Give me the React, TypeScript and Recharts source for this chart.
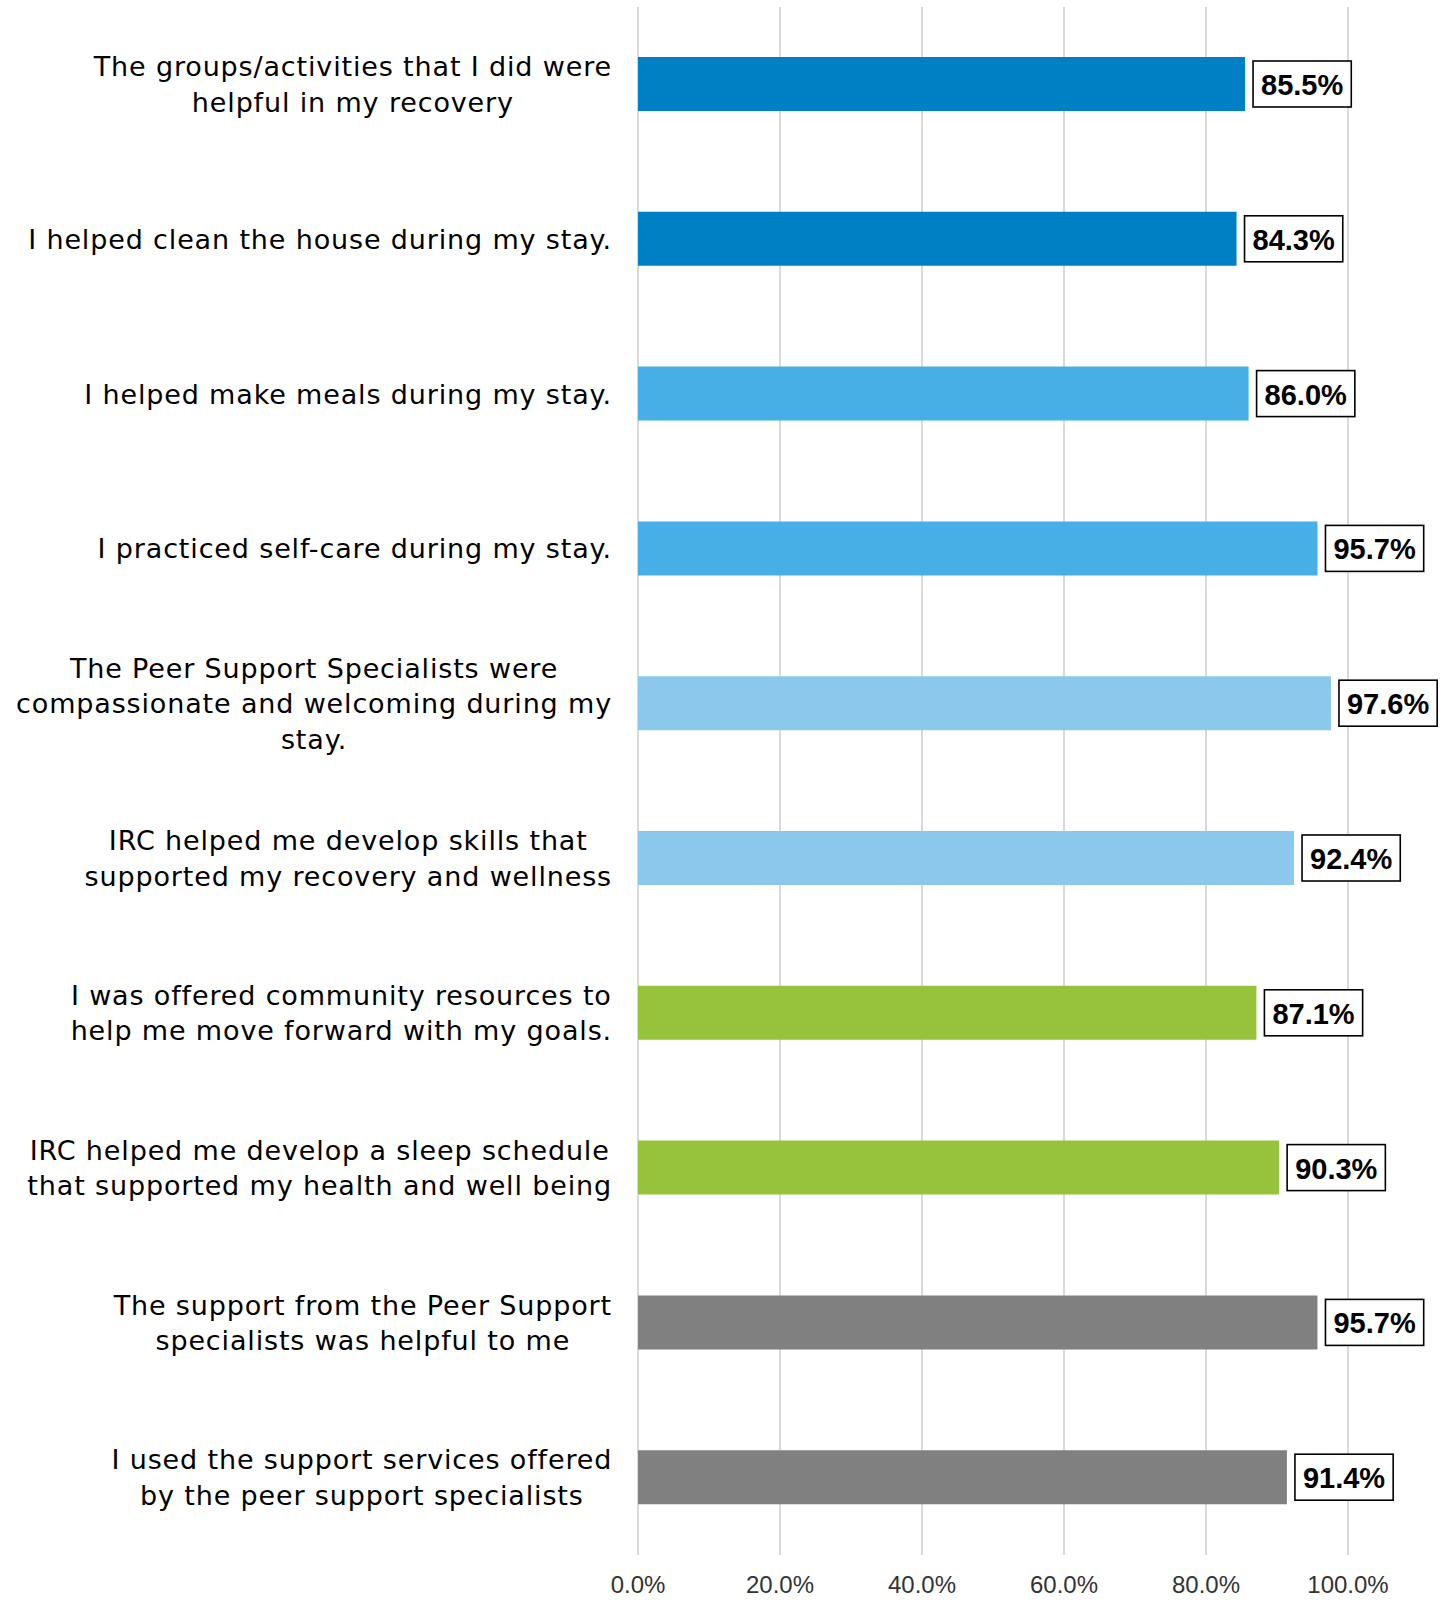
import React from 'react';
import { BarChart, Bar, XAxis, YAxis, CartesianGrid, Cell, LabelList } from 'recharts';

// survey statements, line breaks as shown in the chart
const statements = [
  'The groups/activities that I did were\nhelpful in my recovery',
  'I helped clean the house during my stay.',
  'I helped make meals during my stay.',
  'I practiced self-care during my stay.',
  'The Peer Support Specialists were\ncompassionate and welcoming during my\nstay.',
  'IRC helped me develop skills that\nsupported my recovery and wellness',
  'I was offered community resources to\nhelp me move forward with my goals.',
  'IRC helped me develop a sleep schedule\nthat supported my health and well being',
  'The support from the Peer Support\nspecialists was helpful to me',
  'I used the support services offered\nby the peer support specialists',
];

const agreePct = [85.5, 84.3, 86.0, 95.7, 97.6, 92.4, 87.1, 90.3, 95.7, 91.4];

const xTicks = [0, 20, 40, 60, 80, 100];

const barColors = [
  '#0080C4', '#0080C4',
  '#47AFE5', '#47AFE5',
  '#8CC8EC', '#8CC8EC',
  '#96C23C', '#96C23C',
  '#808080', '#808080',
];

const data = statements.map((s, i) => ({ statement: s, pct: agreePct[i] }));

const CAT_FONT_SIZE = 27;
const CAT_SPACING = 0.85;
const CAT_FONT = `${CAT_FONT_SIZE}px "DejaVu Sans"`;
const VAL_FONT = 'bold 29px "Liberation Sans"';

let ctx: CanvasRenderingContext2D | null = null;
const measure = (text: string, font: string, spacing = 0) => {
  if (!ctx) ctx = document.createElement('canvas').getContext('2d');
  if (!ctx) return text.length * 14;
  ctx.font = font;
  return ctx.measureText(text).width + spacing * text.length;
};

const CategoryTick = (props: any) => {
  const { x, y, payload } = props;
  const lines = String(payload.value).split('\n');
  const maxW = Math.max(...lines.map((l) => measure(l, CAT_FONT, CAT_SPACING)));
  const cx = x - maxW / 2;
  const lh = 35.5;
  const y0 = y - ((lines.length - 1) * lh) / 2;
  return (
    <text
      textAnchor="middle"
      fill="#000"
      style={{ fontFamily: '"DejaVu Sans"', fontSize: CAT_FONT_SIZE, letterSpacing: CAT_SPACING }}
    >
      {lines.map((l, i) => (
        <tspan key={i} x={cx} y={y0 + i * lh} dominantBaseline="central">
          {l}
        </tspan>
      ))}
    </text>
  );
};

const PctTick = (props: any) => {
  const { x, y, payload } = props;
  return (
    <text
      x={x}
      y={y + 29}
      textAnchor="middle"
      dominantBaseline="central"
      fill="#333"
      style={{ fontFamily: '"Liberation Sans"', fontSize: 24 }}
    >
      {`${Number(payload.value).toFixed(1)}%`}
    </text>
  );
};

const ValueBadge = (props: any) => {
  const { x, y, width, height, value } = props;
  const text = `${Number(value).toFixed(1)}%`;
  const tw = measure(text, VAL_FONT);
  const bw = tw + 16;
  const bh = 46;
  const bx = x + width + 8;
  const cy = y + height / 2;
  return (
    <g>
      <rect x={bx} y={cy - bh / 2} width={bw} height={bh} fill="#fff" stroke="#000" strokeWidth={1.6} />
      <text
        x={bx + bw / 2}
        y={cy + 1}
        textAnchor="middle"
        dominantBaseline="central"
        fill="#000"
        style={{ fontFamily: '"Liberation Sans"', fontSize: 29, fontWeight: 'bold' }}
      >
        {text}
      </text>
    </g>
  );
};

export default function App() {
  return (
    <div style={{ position: 'absolute', left: 0, top: 0, background: '#fff' }}>
      <BarChart
        width={1445}
        height={1604}
        data={data}
        layout="vertical"
        margin={{ top: 7, right: 97, bottom: 0, left: 0 }}
      >
        <CartesianGrid horizontal={false} stroke="#D9D9D9" strokeWidth={2} />
        <XAxis
          type="number"
          domain={[0, 100]}
          ticks={xTicks}
          axisLine={false}
          tickLine={false}
          tickSize={0}
          tickMargin={0}
          height={49}
          tick={<PctTick />}
          interval={0}
        />
        <YAxis
          type="category"
          dataKey="statement"
          width={638}
          axisLine={false}
          tickLine={false}
          tickSize={0}
          tickMargin={26}
          tick={<CategoryTick />}
          interval={0}
        />
        <Bar dataKey="pct" barSize={54} isAnimationActive={false}>
          {data.map((_, i) => (
            <Cell key={i} fill={barColors[i]} />
          ))}
          <LabelList dataKey="pct" content={<ValueBadge />} />
        </Bar>
      </BarChart>
    </div>
  );
}
